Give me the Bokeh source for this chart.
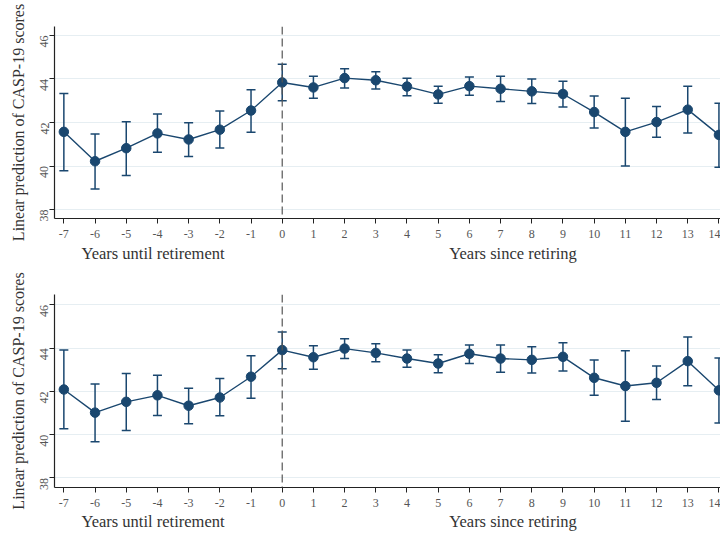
from bokeh.plotting import figure
from bokeh.models import ColumnDataSource, Whisker, Span, FixedTicker, Range1d, Div
from bokeh.layouts import column
from bokeh.embed import file_html
from bokeh.resources import INLINE

years = [-7, -6, -5, -4, -3, -2, -1, 0, 1, 2, 3, 4, 5, 6, 7, 8, 9, 10, 11, 12, 13, 14]

top_est = [41.57, 40.22, 40.82, 41.50, 41.22, 41.67, 42.55, 43.84, 43.61, 44.04, 43.94, 43.65,
           43.29, 43.67, 43.55, 43.43, 43.31, 42.48, 41.57, 42.02, 42.59, 41.43]
top_hi = [43.33, 41.47, 42.04, 42.39, 41.99, 42.53, 43.51, 44.68, 44.13, 44.47, 44.33, 44.03,
          43.67, 44.09, 44.13, 44.00, 43.90, 43.22, 43.11, 42.74, 43.67, 42.89]
top_lo = [39.78, 38.95, 39.56, 40.63, 40.44, 40.83, 41.55, 43.00, 43.11, 43.58, 43.54, 43.23,
          42.88, 43.25, 42.97, 42.87, 42.71, 41.75, 40.00, 41.32, 41.52, 39.94]

bot_est = [42.09, 41.02, 41.52, 41.82, 41.34, 41.72, 42.68, 43.91, 43.58, 43.98, 43.78, 43.52,
           43.29, 43.74, 43.52, 43.46, 43.60, 42.63, 42.25, 42.40, 43.40, 42.05]
bot_hi = [43.91, 42.34, 42.83, 42.75, 42.15, 42.60, 43.65, 44.75, 44.11, 44.43, 44.20, 43.92,
          43.69, 44.15, 44.15, 44.06, 44.25, 43.45, 43.88, 43.18, 44.52, 43.55]
bot_lo = [40.28, 39.68, 40.20, 40.89, 40.51, 40.88, 41.68, 43.05, 43.03, 43.52, 43.37, 43.12,
          42.86, 43.29, 42.89, 42.85, 42.94, 41.82, 40.62, 41.63, 42.26, 40.54]

y_ticks = [38, 40, 42, 44, 46]
y_title = "Linear prediction of CASP-19 scores"
left_title = "Years until retirement"
right_title = "Years since retiring"

NAVY = "#1a476f"
FONT = "Liberation Serif"


def make_panel(est, lo, hi, height, ymin, ymax):
    p = figure(width=720, height=height, output_backend="svg", toolbar_location=None,
               x_range=Range1d(-7.3, 14.05), y_range=Range1d(ymin, ymax))
    p.min_border_left = 54
    p.min_border_right = 0
    p.min_border_top = 26
    p.min_border_bottom = 24
    p.outline_line_color = None
    p.background_fill_color = "white"

    src = ColumnDataSource(dict(x=years, y=est, lo=lo, hi=hi))

    p.xgrid.grid_line_color = None
    p.ygrid.grid_line_color = "#e6eef2"
    p.ygrid.grid_line_width = 1
    p.ygrid.ticker = FixedTicker(ticks=y_ticks)

    p.add_layout(Span(location=0, dimension="height", line_color="#555555",
                      line_dash="8 4", line_width=1.2))

    w = Whisker(source=src, base="x", upper="hi", lower="lo",
                line_color=NAVY, line_width=1.5)
    for h in (w.upper_head, w.lower_head):
        h.size = 9
        h.line_color = NAVY
        h.line_width = 1.5
    p.add_layout(w)

    p.line("x", "y", source=src, line_color=NAVY, line_width=1.4)
    p.scatter("x", "y", source=src, size=9.5, fill_color=NAVY, line_color=NAVY)

    p.xaxis.ticker = FixedTicker(ticks=years)
    p.xaxis.major_label_overrides = {t: str(t) for t in years}
    p.yaxis.ticker = FixedTicker(ticks=y_ticks)
    for ax in (p.xaxis[0], p.yaxis[0]):
        ax.axis_line_color = "#222222"
        ax.axis_line_width = 1.2
        ax.major_tick_line_color = "#222222"
        ax.major_tick_out = 5
        ax.major_tick_in = 0
        ax.minor_tick_line_color = None
        ax.major_label_text_font = FONT
        ax.major_label_text_font_size = "12px"
        ax.major_label_text_color = "#555555"
    p.xaxis.major_label_standoff = 6
    p.yaxis.major_label_orientation = 1.5708
    p.yaxis.major_label_standoff = 5
    p.yaxis.axis_label = y_title
    p.yaxis.axis_label_text_font = FONT
    p.yaxis.axis_label_text_font_style = "normal"
    p.yaxis.axis_label_text_font_size = "16px"
    p.yaxis.axis_label_text_color = "#333333"
    p.yaxis.axis_label_standoff = 7
    return p


def title_row(height, top):
    span = ("position:absolute;top:{t}px;left:{l}px;width:260px;text-align:center;"
            "white-space:nowrap;line-height:18px;")
    html = (
        f'<div style="position:relative;width:720px;height:{height}px;'
        f"font-family:'{FONT}';font-size:16.5px;color:#333333;\">"
        f'<span style="{span.format(t=top, l=153 - 130)}">{left_title}</span>'
        f'<span style="{span.format(t=top, l=513 - 130)}">{right_title}</span>'
        "</div>"
    )
    return Div(text=html, width=720, height=height, margin=(0, 0, 0, 0))


p1 = make_panel(top_est, top_lo, top_hi, 242, 37.59, 46.41)
d1 = title_row(26, 3)
p2 = make_panel(bot_est, bot_lo, bot_hi, 243, 37.56, 46.48)
d2 = title_row(22, 2)

layout = column(p1, d1, p2, d2, spacing=0)
open("out.html", "w").write(file_html(layout, INLINE))
